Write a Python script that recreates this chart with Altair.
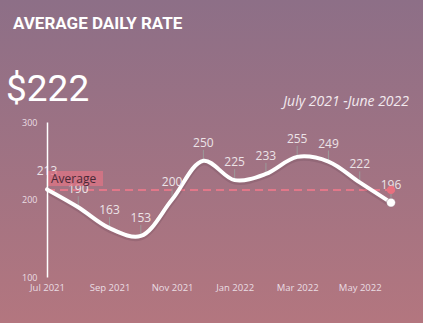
import json
import altair as alt
import pandas as pd

months = ["Jul 2021", "Aug 2021", "Sep 2021", "Oct 2021", "Nov 2021", "Dec 2021",
          "Jan 2022", "Feb 2022", "Mar 2022", "Apr 2022", "May 2022", "Jun 2022"]
values = [213, 190, 163, 153, 200, 250, 225, 233, 255, 249, 222, 196]
tick_idx = [0, 2, 4, 6, 8, 10]
title_text = "AVERAGE DAILY RATE"
headline = "$222"
period = "July 2021 -June 2022"

df = pd.DataFrame({"i": list(range(len(months))), "month": months, "value": values})
avg = sum(values) / len(values)
last = df.iloc[[-1]]

W, H = 344, 155
PL, PT, PR, PB = 47, 122, 32, 46

x = alt.X("i:Q", scale=alt.Scale(domain=[0, 11], nice=False),
          axis=alt.Axis(values=tick_idx, labelExpr=json.dumps(months) + "[datum.value]",
                        domain=False, ticks=False, grid=False, title=None, zindex=1,
                        labelFlush=False, labelOverlap=False,
                        labelColor="#eadde3", labelFontSize=9.5, labelFont="Open Sans",
                        labelPadding=5))
y = alt.Y("value:Q", scale=alt.Scale(domain=[100, 300], nice=False),
          axis=alt.Axis(values=[100, 200, 300], domain=True, domainColor="#ffffff",
                        domainWidth=1.5, ticks=False, grid=False, title=None, zindex=1,
                        labelFlush=False, labelOverlap=False,
                        labelColor="#eadde3", labelFontSize=9, labelFont="Open Sans",
                        labelPadding=10))

base = alt.Chart(df)

bg = base.mark_rect(
    fill=alt.Gradient(gradient="linear", x1=0, y1=0, x2=0, y2=1,
                      stops=[alt.GradientStop(color="#8d6f87", offset=0),
                             alt.GradientStop(color="#b3767f", offset=1)]),
    clip=False,
).encode(x=alt.value(-PL), x2=alt.value(W + PR), y=alt.value(-PT), y2=alt.value(H + PB))

avg_line = alt.Chart(pd.DataFrame({"a": [avg]})).mark_rule(
    color="#e8788a", strokeDash=[8, 5], strokeWidth=2, opacity=0.9
).encode(y=alt.Y("a:Q", scale=alt.Scale(domain=[100, 300], nice=False)),
         x=alt.value(0), x2=alt.value(W))

avg_box = alt.Chart(pd.DataFrame({"a": [avg]})).mark_rect(
    color="#de7484", opacity=0.75
).encode(x=alt.value(1), x2=alt.value(56), y=alt.value(49), y2=alt.value(64))

avg_text = alt.Chart(pd.DataFrame({"t": ["Average"]})).mark_text(
    align="left", baseline="middle", fontSize=12, font="Open Sans", color="#4a2836"
).encode(text="t:N", x=alt.value(4), y=alt.value(57))

leaders = base.mark_rule(color="#9c9a9a", strokeWidth=1, y2Offset=-11).encode(
    x=x, y=y, y2=alt.Y2("value"))

shadow = base.mark_line(interpolate="catmull-rom", color="#5a3a4a", opacity=0.2,
                        strokeWidth=6, yOffset=1.5).encode(x=x, y=y)
line = base.mark_line(interpolate="catmull-rom", color="#ffffff", strokeWidth=4,
                      strokeCap="round").encode(x=x, y=y)

labels = base.mark_text(dy=-18, fontSize=12, font="Open Sans", color="#ece3e7").encode(
    x=x, y=y, text="value:Q")

red_dot = alt.Chart(pd.DataFrame({"i": [11], "a": [avg]})).mark_circle(
    size=70, color="#e8707f", opacity=1
).encode(x=alt.X("i:Q"), y=alt.Y("a:Q"))

end_dot = alt.Chart(last).mark_circle(size=80, color="#ffffff", opacity=1,
                                      stroke="#8a6a78", strokeWidth=0.5).encode(
    x=alt.X("i:Q"), y=alt.Y("value:Q"))

t1 = alt.Chart(pd.DataFrame({"t": [title_text]})).mark_text(
    align="left", baseline="alphabetic", fontSize=17, fontWeight="bold",
    font="Roboto", color="#ffffff"
).encode(text="t:N", x=alt.value(13 - PL), y=alt.value(29 - PT))

t2 = alt.Chart(pd.DataFrame({"t": [headline]})).mark_text(
    align="left", baseline="alphabetic", fontSize=37,
    font="Roboto", color="#ffffff"
).encode(text="t:N", x=alt.value(6 - PL), y=alt.value(101 - PT))

t3 = alt.Chart(pd.DataFrame({"t": [period]})).mark_text(
    align="right", baseline="middle", fontSize=14, fontStyle="italic",
    font="Open Sans", color="#f2e9ee"
).encode(text="t:N", x=alt.value(409 - PL), y=alt.value(102 - PT))

chart = alt.layer(bg, t1, t2, t3, avg_line, leaders, shadow, line, labels,
                  avg_box, avg_text, red_dot, end_dot).properties(
    width=W, height=H,
    autosize=alt.AutoSizeParams(type="none"),
    padding={"left": PL, "top": PT, "right": PR, "bottom": PB},
    background="#a07282",
).configure_view(stroke=None)

chart.save("out.html", embed_options={"renderer": "svg", "actions": False})
